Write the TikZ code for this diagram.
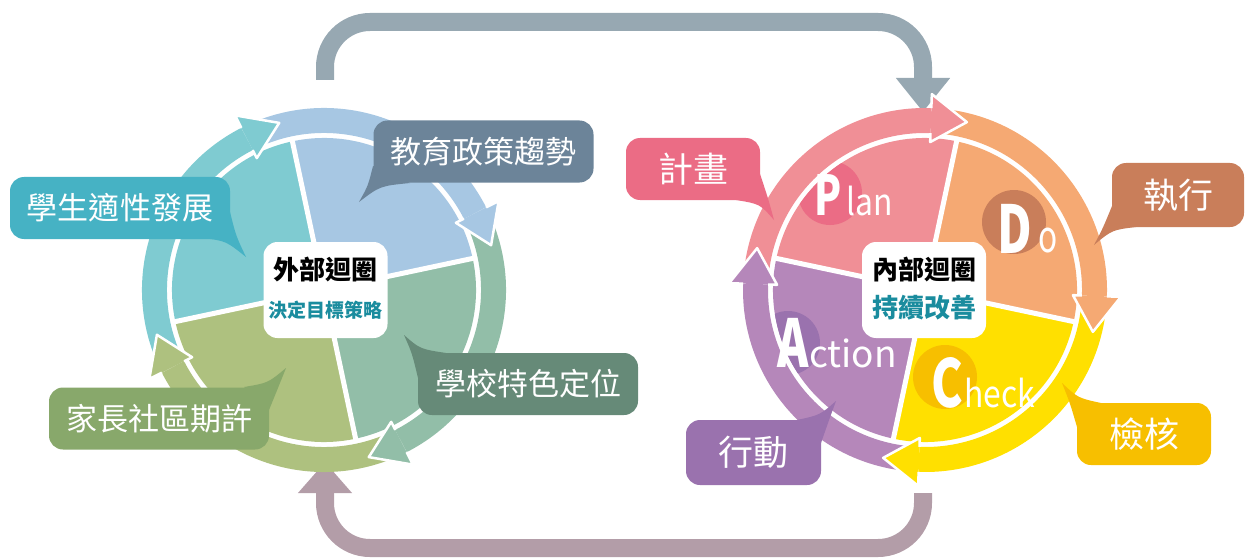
\documentclass[tikz,border=0pt]{standalone}
\usepackage{fontspec}
\setmainfont{Noto Sans CJK TC}
\newfontfamily\condfont[FakeStretch=0.72]{Noto Sans CJK TC}
\newfontfamily\narrowfont[FakeStretch=0.86]{Noto Sans CJK TC}
\usepackage{tikz}
\usetikzlibrary{arrows.meta}

\definecolor{ringTeal}{HTML}{7FCBD1}
\definecolor{ringBlue}{HTML}{A7C7E3}
\definecolor{ringGreen}{HTML}{92BEA8}
\definecolor{ringOlive}{HTML}{AEC17F}
\definecolor{ringPink}{HTML}{F08F96}
\definecolor{ringOrange}{HTML}{F5A973}
\definecolor{ringYellow}{HTML}{FFE000}
\definecolor{ringPurple}{HTML}{B587BA}
\definecolor{tagTeal}{HTML}{46B2C4}
\definecolor{tagSlate}{HTML}{6C8499}
\definecolor{tagGreen}{HTML}{668A78}
\definecolor{tagOlive}{HTML}{88A86B}
\definecolor{tagPink}{HTML}{EB6C85}
\definecolor{tagBrown}{HTML}{C97E5A}
\definecolor{tagGold}{HTML}{F7BF00}
\definecolor{tagPurple}{HTML}{9A72AE}
\definecolor{loopTop}{HTML}{97A8B2}
\definecolor{loopBot}{HTML}{B39DA8}
\definecolor{subText}{HTML}{1A8C9E}

\tikzset{
  tag/.style={rounded corners=14pt, inner sep=0pt, text=white, minimum height=62pt},
  tagL/.style={tag, minimum width=220pt, font=\fontsize{31}{31}\selectfont},
  tagR/.style={tag, minimum width=134pt, font=\fontsize{35}{35}\selectfont},
  hub/.style={fill=white, rounded corners=14pt, minimum width=124pt, minimum height=96pt},
  ring/.style={line width=25pt},
  tipline/.style={white, line width=2.5pt, line join=round},
  divider/.style={white, line width=5pt},
  band/.style={line width=18pt, rounded corners=45pt},
  dot/.style={circle, inner sep=0pt, minimum size=64pt},
  bigchar/.style={text=white, inner sep=0pt, anchor=base, font=\condfont\bfseries\fontsize{66}{66}\selectfont},
  smallchars/.style={text=white, inner sep=0pt, anchor=base west, font=\narrowfont\fontsize{37}{37}\selectfont},
}

\begin{document}
\begin{tikzpicture}[x=1pt, y=1pt]
\useasboundingbox (0,0) rectangle (1247,558);

% loops between the two cycles
\coordinate (topS) at (325,478);
\coordinate (topT) at (923,446);
\coordinate (botS) at (923,65);
\coordinate (botT) at (325,96);
\draw[band, loopTop, -{Triangle[width=52pt,length=34pt]}] (topS) -- (325,536) -- (923,536) -- (topT);
\draw[band, loopBot, -{Triangle[width=52pt,length=31pt]}] (botS) -- (923,10) -- (325,10) -- (botT);

% outer cycle
\begin{scope}[shift={(324,268)}]
\fill[ringBlue] (0,0) -- (12:152) arc[start angle=12, end angle=102, radius=152] -- cycle;
\fill[ringTeal] (0,0) -- (102:152) arc[start angle=102, end angle=192, radius=152] -- cycle;
\fill[ringOlive] (0,0) -- (192:152) arc[start angle=192, end angle=282, radius=152] -- cycle;
\fill[ringGreen] (0,0) -- (-78:152) arc[start angle=-78, end angle=12, radius=152] -- cycle;
\draw[divider] (0,0) -- (12:154) (0,0) -- (102:154) (0,0) -- (192:154) (0,0) -- (282:154);
\draw[ring, ringTeal] (204:169.5) arc[start angle=204, end angle=117, radius=169.5];
\draw[ring, ringBlue] (114:169.5) arc[start angle=114, end angle=27, radius=169.5];
\draw[ring, ringGreen] (24:169.5) arc[start angle=24, end angle=-63, radius=169.5];
\draw[ring, ringOlive] (-66:169.5) arc[start angle=-66, end angle=-153, radius=169.5];
\fill[ringTeal] (117:148) -- (105:173) -- (117:196) -- cycle;
\draw[tipline] (117:157) -- (117:148) -- (105:173) -- (117:196) -- (117:182);
\fill[ringBlue] (27:148) -- (15:173) -- (27:196) -- cycle;
\draw[tipline] (27:157) -- (27:148) -- (15:173) -- (27:196) -- (27:182);
\fill[ringGreen] (-63:148) -- (-75:173) -- (-63:196) -- cycle;
\draw[tipline] (-63:157) -- (-63:148) -- (-75:173) -- (-63:196) -- (-63:182);
\fill[ringOlive] (-153:148) -- (-165:173) -- (-153:196) -- cycle;
\draw[tipline] (-153:157) -- (-153:148) -- (-165:173) -- (-153:196) -- (-153:182);
\end{scope}

% inner cycle
\begin{scope}[shift={(925,268)}]
\fill[ringPink] (0,0) -- (78:152) arc[start angle=78, end angle=168, radius=152] -- cycle;
\fill[ringOrange] (0,0) -- (-12:152) arc[start angle=-12, end angle=78, radius=152] -- cycle;
\fill[ringYellow] (0,0) -- (-102:152) arc[start angle=-102, end angle=-12, radius=152] -- cycle;
\fill[ringPurple] (0,0) -- (168:152) arc[start angle=168, end angle=258, radius=152] -- cycle;
\draw[divider] (0,0) -- (78:154) (0,0) -- (-12:154) (0,0) -- (-102:154) (0,0) -- (168:154);
\draw[ring, ringPink] (175:169.5) arc[start angle=175, end angle=88, radius=169.5];
\draw[ring, ringOrange] (85:169.5) arc[start angle=85, end angle=-2, radius=169.5];
\draw[ring, ringYellow] (-5:169.5) arc[start angle=-5, end angle=-92, radius=169.5];
\draw[ring, ringPurple] (-95:169.5) arc[start angle=-95, end angle=-182, radius=169.5];
\fill[ringPink] (88:148) -- (76:173) -- (88:196) -- cycle;
\draw[tipline] (88:157) -- (88:148) -- (76:173) -- (88:196) -- (88:182);
\fill[ringOrange] (-2:148) -- (-14:173) -- (-2:196) -- cycle;
\draw[tipline] (-2:157) -- (-2:148) -- (-14:173) -- (-2:196) -- (-2:182);
\fill[ringYellow] (-92:148) -- (-104:173) -- (-92:196) -- cycle;
\draw[tipline] (-92:157) -- (-92:148) -- (-104:173) -- (-92:196) -- (-92:182);
\fill[ringPurple] (178:148) -- (166:173) -- (178:196) -- cycle;
\draw[tipline] (178:157) -- (178:148) -- (166:173) -- (178:196) -- (178:182);
\end{scope}

% PDCA letters
\begin{scope}
\clip (925,268) circle[radius=152];
\node[dot, fill=tagPink] (planDot) at (830,365) {};
\node[dot, fill=tagBrown] (doDot) at (1014,336) {};
\node[dot, fill=tagGold] (checkDot) at (945,181) {};
\node[dot, fill=tagPurple] (actDot) at (788,215) {};
\end{scope}
\node[bigchar, font=\condfont\bfseries\fontsize{55}{55}\selectfont] (planBig) at (828,343) {P};
\node[smallchars] (planRest) at (846,343) {lan};
\node[bigchar] (doBig) at (1015,305) {D};
\node[smallchars, font=\condfont\fontsize{44}{44}\selectfont] (doRest) at (1038,306) {o};
\node[bigchar] (actBig) at (793,191) {A};
\node[smallchars, font=\fontsize{37}{37}\selectfont] (actRest) at (809,191) {ction};
\node[bigchar] (checkBig) at (947,151) {C};
\node[smallchars] (checkRest) at (964,151) {heck};

% speech bubbles, outer cycle
\fill[tagTeal] (203,320) .. controls (226,317) .. (246,301) .. controls (236,322) .. (230,346) -- cycle;
\node[tagL, fill=tagTeal] (studentTag) at (120,350) {學生適性發展};
\fill[tagSlate] (410,375) .. controls (380,372) .. (359,356) .. controls (368,372) .. (373,392) -- cycle;
\node[tagL, fill=tagSlate] (policyTag) at (483.5,406.5) {教育政策趨勢};
\fill[tagGreen] (446,205) .. controls (420,209) .. (404,223) .. controls (412,205) .. (418,180) -- cycle;
\node[tagL, fill=tagGreen] (schoolTag) at (528,174) {學校特色定位};
\fill[tagOlive] (244,171) .. controls (268,175) .. (286,190) .. controls (278,170) .. (269,148) -- cycle;
\node[tagL, fill=tagOlive] (parentTag) at (159,139.5) {家長社區期許};

% speech bubbles, inner cycle
\fill[tagPink] (736,358) .. controls (760,354) .. (774,338) .. controls (768,360) .. (760,384) -- cycle;
\node[tagR, fill=tagPink] (planTag) at (693,389) {計畫};
\fill[tagBrown] (1136,331) .. controls (1112,328) .. (1094,313) .. controls (1103,330) .. (1112,352) -- cycle;
\node[tagR, fill=tagBrown, minimum width=132pt, minimum height=64pt] (doTag) at (1178,363) {執行};
\fill[tagGold] (1101,155) .. controls (1078,160) .. (1062,175) .. controls (1070,155) .. (1077,131) -- cycle;
\node[tagR, fill=tagGold] (checkTag) at (1144,124) {檢核};
\fill[tagPurple] (797,138) .. controls (820,143) .. (836,157) .. controls (829,138) .. (821,115) -- cycle;
\node[tagR, fill=tagPurple, minimum width=135pt, minimum height=65pt] (actTag) at (753.5,105.5) {行動};

% centre labels
\node[hub] (outerHub) at (325.5,268) {};
\node[font=\bfseries\fontsize{26}{26}\selectfont, text=black] (outerTitle) at (325.5,288) {外部迴圈};
\node[font=\bfseries\fontsize{19}{19}\selectfont, text=subText] (outerSub) at (325.5,248) {決定目標策略};
\node[hub] (innerHub) at (924,268) {};
\node[font=\bfseries\fontsize{26}{26}\selectfont, text=black] (innerTitle) at (924,288) {內部迴圈};
\node[font=\bfseries\fontsize{26}{26}\selectfont, text=subText] (innerSub) at (924,250) {持續改善};

\end{tikzpicture}
\end{document}
